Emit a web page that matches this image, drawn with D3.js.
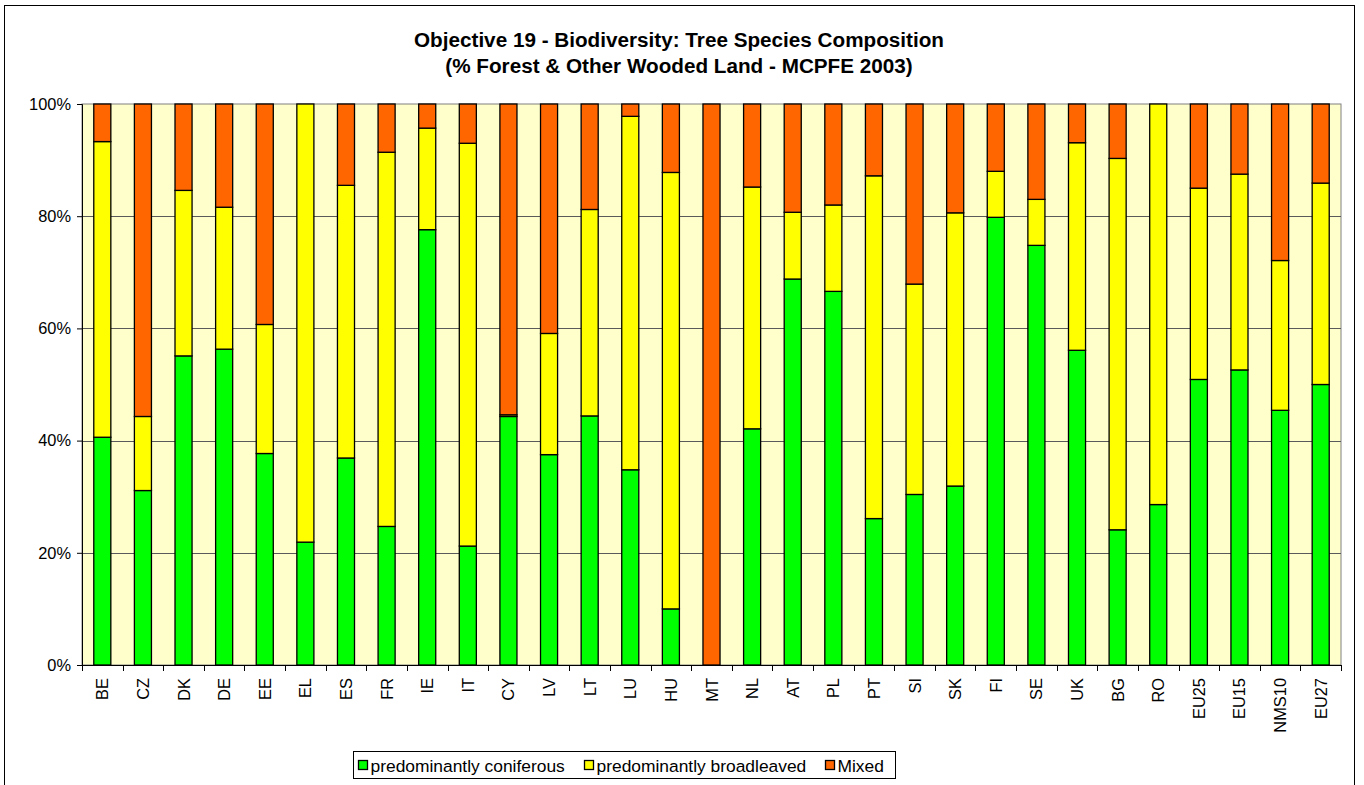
<!DOCTYPE html>
<html><head><meta charset="utf-8">
<script src="https://cdn.jsdelivr.net/npm/d3@7"></script>
<style>body{margin:0;background:#fff}svg{display:block;font-family:Arial,"Liberation Sans",sans-serif}</style>
</head><body>
<svg id="c" width="1364" height="785"></svg>
<script>
const categories = ["BE","CZ","DK","DE","EE","EL","ES","FR","IE","IT","CY","LV","LT","LU","HU","MT","NL","AT","PL","PT","SI","SK","FI","SE","UK","BG","RO","EU25","EU15","NMS10","EU27"];
const coniferous  = [40.6,31.1,55.1,56.3,37.7,21.9,36.9,24.7,77.6,21.2,44.3,37.5,44.4,34.8,10.0,0,42.1,68.8,66.6,26.1,30.4,31.9,79.8,74.8,56.1,24.1,28.6,50.9,52.6,45.4,50.0];
const broadleaved = [52.7,13.2,29.5,25.3,23.0,78.1,48.6,66.7,18.1,71.8,0.3,21.6,36.8,63.0,77.8,0,43.1,11.9,15.4,61.1,37.5,48.7,8.2,8.2,37.0,66.2,71.4,34.1,34.9,26.7,35.9];
const mixed       = [6.7,55.7,15.4,18.4,39.3,0,14.5,8.6,4.3,7.0,55.4,40.9,18.8,2.2,12.2,100,14.8,19.3,18.0,12.8,32.1,19.4,12.0,17.0,6.9,9.7,0,15.0,12.5,27.9,14.1];
const seriesNames = ["predominantly coniferous","predominantly broadleaved","Mixed"];
const seriesColors = ["#00FF00","#FFFF00","#FF6600"];
const yTicks = [0,20,40,60,80,100];
const titleLines = ["Objective 19 - Biodiversity: Tree Species Composition","(% Forest & Other Wooded Land - MCPFE 2003)"];

const FONT = "Arial, 'Liberation Sans', sans-serif";
const svg = d3.select("#c");
// outer frame
svg.append("rect").attr("x",4.5).attr("y",5.5).attr("width",1350).attr("height",800)
  .attr("fill","#fff").attr("stroke","#000").attr("stroke-width",1);

const L=82, R=1341, T=104, B=665;
const x = d3.scaleBand().domain(categories).range([L,R]).paddingInner(0.58).paddingOuter(0.29);
const y = d3.scaleLinear().domain([0,100]).range([B,T]);

svg.append("rect").attr("x",L).attr("y",T).attr("width",R-L).attr("height",B-T)
  .attr("fill","#FFFFCC").attr("stroke","#808080").attr("stroke-width",1);

// gridlines
svg.append("g").selectAll("line").data(yTicks.filter(d=>d>0&&d<100)).join("line")
  .attr("x1",L).attr("x2",R).attr("y1",d=>Math.round(y(d))+0.5).attr("y2",d=>Math.round(y(d))+0.5)
  .attr("stroke","#5a5a5a").attr("stroke-width",1);

// stacked data
const rows = categories.map((c,i)=>({cat:c, s0:coniferous[i], s1:broadleaved[i], s2:mixed[i]}));
const stack = d3.stack().keys(["s0","s1","s2"]);
const stacked = stack(rows);
svg.append("g").selectAll("g").data(stacked).join("g")
  .attr("fill",(d,i)=>seriesColors[i])
  .selectAll("rect").data(d=>d.filter(v=>v[1]-v[0]>0)).join("rect")
  .attr("x",d=>x(d.data.cat)).attr("width",x.bandwidth())
  .attr("y",d=>y(d[1])).attr("height",d=>y(d[0])-y(d[1]))
  .attr("stroke","#000").attr("stroke-width",1.3);

// y axis
const yAxis = d3.axisLeft(y).tickValues(yTicks).tickFormat(d=>d+"%").tickSize(5).tickPadding(6);
const gy = svg.append("g").attr("transform",`translate(${L},0)`).call(yAxis)
  .attr("font-size",16.4).attr("font-family",FONT);
gy.select(".domain").attr("stroke","#000");
gy.selectAll(".tick line").attr("stroke","#000");
gy.selectAll("text").attr("fill","#000");

// x axis
const gx = svg.append("g").attr("transform",`translate(0,${B})`);
gx.append("line").attr("x1",L).attr("x2",R).attr("y1",0.5).attr("y2",0.5).attr("stroke","#000");
const step = x.step();
const bounds = d3.range(categories.length+1).map(i=>L+i*step);
gx.selectAll("line.tk").data(bounds).join("line").attr("class","tk")
  .attr("x1",d=>Math.round(d)+0.5).attr("x2",d=>Math.round(d)+0.5).attr("y1",0).attr("y2",6).attr("stroke","#000");
gx.selectAll("text").data(categories).join("text")
  .attr("transform",d=>`translate(${x(d)+x.bandwidth()/2+6},13) rotate(-90)`)
  .attr("text-anchor","end").attr("font-size",16.4).attr("font-family",FONT).attr("fill","#000").text(d=>d);

// title
svg.append("g").selectAll("text").data(titleLines).join("text")
  .attr("x",679).attr("y",(d,i)=>46.5+i*26.5).attr("text-anchor","middle")
  .attr("font-size",20.7).attr("font-family",FONT).attr("font-weight","bold").attr("fill","#000").text(d=>d);

// legend
const lg = svg.append("g");
lg.append("rect").attr("x",353.5).attr("y",751.5).attr("width",542).attr("height",27).attr("fill","#fff").attr("stroke","#000");
const legX = [358, 584, 825];
seriesNames.forEach((n,i)=>{
  lg.append("rect").attr("x",legX[i]+0.5).attr("y",760.5).attr("width",9).attr("height",9).attr("fill",seriesColors[i]).attr("stroke","#000").attr("stroke-width",1.3);
  lg.append("text").attr("x",legX[i]+12.5).attr("y",771.5).attr("font-size",17.4).attr("font-family",FONT).attr("fill","#000").text(n);
});
</script>
</body></html>
